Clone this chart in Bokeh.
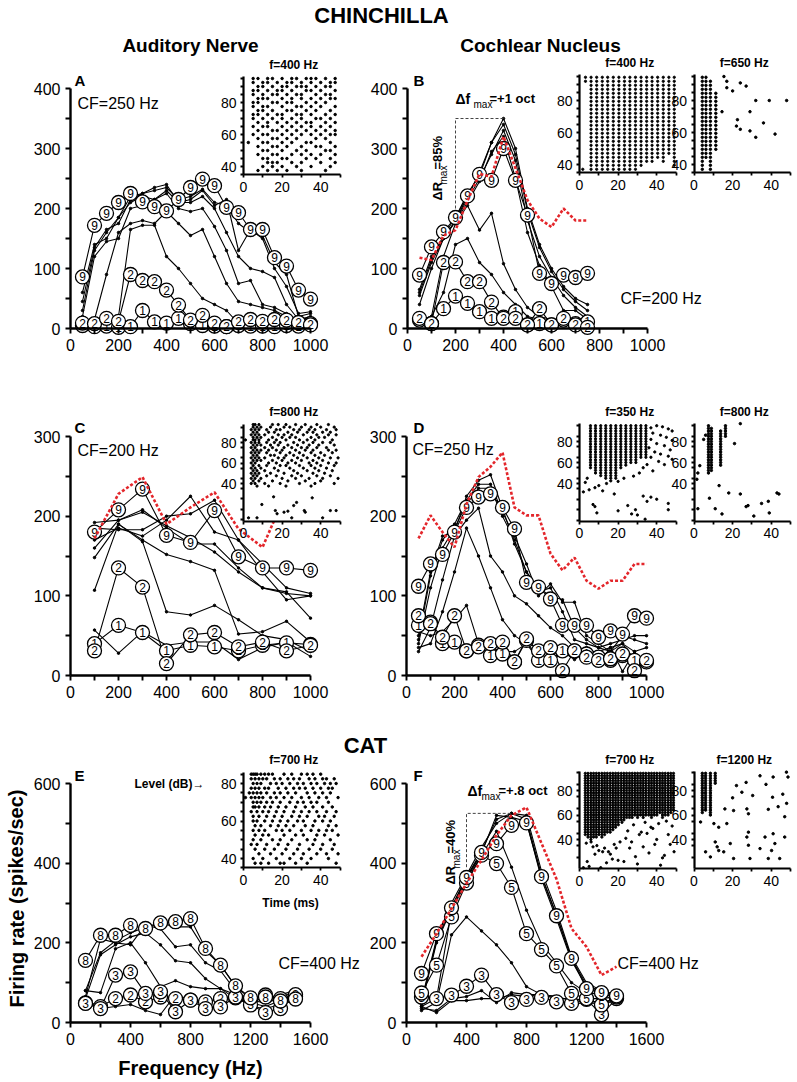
from bokeh.plotting import figure
from bokeh.models import Range1d, LinearAxis, FixedTicker
from bokeh.core.properties import value
from bokeh.embed import file_html
from bokeh.resources import INLINE

# ---------------- DATA ----------------
# Panel A (chinchilla AN, CF=250 Hz)
A_FREQ = [50, 100, 150, 200, 250, 300, 350, 400, 450, 500, 550, 600, 650, 700, 750, 800, 850, 900, 950, 1000]
A_L1 = [5, 3, 4, 2, 3, 30, 11, 9, 17, 8, 5, 4, 3, 5, 4, 4, 3, 5, 4, 8]
A_L2 = [9, 8, 17, 12, 90, 80, 78, 64, 39, 14, 22, 9, 3, 11, 15, 12, 15, 14, 10, 6]
A_L9 = [86, 172, 192, 210, 225, 211, 203, 196, 215, 235, 249, 238, 202, 193, 165, 165, 118, 104, 64, 49]
A_L3 = [10, 12, 15, 20, 165, 172, 172, 120, 100, 75, 50, 40, 30, 8, 10, 12, 14, 15, 15, 18]
A_L4 = [15, 15, 90, 160, 175, 180, 175, 195, 175, 155, 165, 120, 75, 45, 40, 35, 30, 20, 15, 15]
A_L5 = [20, 120, 145, 150, 200, 205, 215, 225, 200, 195, 200, 170, 130, 75, 80, 40, 35, 25, 10, 12]
A_L6 = [30, 130, 160, 185, 210, 220, 215, 230, 210, 210, 220, 200, 160, 120, 100, 95, 85, 40, 15, 20]
A_L7 = [45, 135, 165, 175, 215, 225, 235, 240, 210, 215, 230, 205, 215, 130, 165, 150, 100, 70, 25, 28]
A_L8 = [60, 140, 150, 185, 220, 225, 230, 235, 215, 220, 232, 210, 205, 175, 160, 155, 110, 90, 20, 25]

# Panel B (chinchilla CN, CF=200 Hz)
B_FREQ = [50, 100, 150, 200, 250, 300, 350, 400, 450, 500, 550, 600, 650, 700, 750]
B_L1 = [14, 8, 33, 54, 42, 28, 17, 19, 28, 6, 8, 6, 14, 8, 11]
B_L2 = [17, 8, 110, 111, 78, 78, 44, 17, 17, 6, 33, 6, 17, 6, 2]
B_L9 = [89, 136, 161, 185, 221, 257, 247, 300, 247, 189, 92, 75, 89, 85, 92]
B_L3 = [15, 20, 60, 140, 150, 110, 90, 60, 40, 20, 15, 12, 10, 8, 6]
B_L4 = [10, 20, 120, 175, 205, 164, 192, 108, 65, 35, 20, 15, 12, 8, 5]
B_L5 = [40, 100, 150, 178, 210, 245, 295, 320, 250, 160, 105, 70, 30, 30, 15]
B_L6 = [55, 110, 150, 180, 215, 250, 290, 330, 280, 180, 120, 85, 55, 35, 20]
B_L7 = [60, 115, 155, 185, 225, 255, 310, 340, 290, 195, 135, 95, 65, 45, 30]
B_L8 = [65, 120, 150, 180, 220, 260, 310, 350, 300, 200, 140, 100, 70, 50, 40]
B_RED = [118, 114, 155, 164, 213, 258, 253, 320, 267, 214, 183, 169, 200, 180, 180]
B_ANN_F = [200, 200, 400]
B_ANN_R = [200, 350, 350]

# Panel C (chinchilla AN, CF=200 Hz)
C_FREQ = [100, 200, 300, 400, 500, 600, 700, 800, 900, 1000]
C_L1 = [40, 63, 54, 31, 38, 36, 31, 38, 41, 39]
C_L2 = [31, 135, 111, 15, 51, 54, 36, 42, 31, 38]
C_L9 = [180, 208, 234, 176, 167, 207, 149, 135, 135, 132]
C_L3 = [57, 28, 55, 38, 42, 42, 20, 35, 42, 24]
C_L4 = [107, 190, 168, 80, 76, 88, 70, 50, 45, 30]
C_L5 = [148, 190, 170, 152, 143, 132, 52, 55, 68, 42]
C_L6 = [160, 195, 208, 185, 165, 165, 135, 110, 105, 72]
C_L7 = [170, 185, 175, 195, 225, 180, 170, 130, 95, 100]
C_L8 = [185, 183, 183, 200, 203, 220, 170, 140, 110, 103]
C_L8B = [192, 195, 205, 188, 173, 155, 130, 110, 103, 100]
C_RED_FREQ = [100, 200, 300, 400, 500, 600, 700, 800, 900]
C_RED = [172, 228, 249, 190, 211, 230, 184, 161, 230]

# Panel D (chinchilla CN, CF=250 Hz)
D_FREQ = [50, 100, 150, 200, 250, 300, 350, 400, 450, 500, 550, 600, 650, 700, 750, 800, 850, 900, 950, 1000]
D_L1 = [63, 67, 40, 42, 31, 38, 25, 27, 17, 44, 19, 19, 31, 31, 27, 23, 19, 25, 19, 17]
D_L2 = [75, 65, 48, 75, 31, 36, 40, 42, 17, 46, 31, 35, 6, 31, 23, 19, 21, 27, 6, 19]
D_L9 = [112, 140, 152, 180, 211, 224, 228, 211, 184, 117, 111, 96, 63, 63, 63, 48, 56, 52, 75, 72]
D_L3 = [55, 50, 55, 70, 88, 40, 35, 30, 30, 40, 20, 15, 30, 20, 30, 15, 35, 5, 30, 10]
D_L4 = [35, 40, 80, 130, 185, 150, 110, 70, 50, 40, 35, 30, 25, 30, 35, 25, 20, 30, 25, 20]
D_L5 = [30, 60, 120, 175, 195, 210, 150, 130, 100, 90, 75, 60, 50, 35, 30, 30, 35, 40, 20, 25]
D_L6 = [40, 110, 160, 185, 215, 235, 235, 200, 170, 130, 110, 100, 95, 60, 45, 35, 30, 40, 30, 35]
D_L7 = [45, 125, 170, 190, 220, 240, 240, 205, 175, 140, 100, 115, 92, 92, 50, 40, 30, 50, 45, 40]
D_L8 = [50, 130, 175, 180, 225, 245, 252, 210, 165, 130, 105, 110, 80, 45, 40, 35, 40, 45, 50, 50]
D_RED = [172, 201, 180, 161, 215, 249, 262, 280, 211, 201, 201, 153, 132, 148, 119, 109, 119, 119, 140, 140]

# Panel E (cat AN, CF=400 Hz)
E_FREQ = [100, 200, 300, 400, 500, 600, 700, 800, 900, 1000, 1100, 1200, 1300, 1400, 1500]
E_L2 = [49, 40, 60, 69, 52, 64, 60, 56, 52, 60, 62, 58, 69, 60, 65]
E_L3 = [48, 35, 119, 127, 73, 77, 27, 56, 35, 39, 64, 44, 25, 35, 70]
E_L8 = [156, 219, 219, 244, 236, 250, 253, 261, 186, 144, 92, 62, 64, 54, 59]
E_L4 = [60, 35, 40, 45, 30, 20, 70, 55, 50, 60, 65, 40, 35, 45, 55]
E_L5 = [80, 75, 185, 200, 150, 90, 105, 90, 85, 85, 60, 50, 40, 55, 65]
E_L6 = [60, 170, 195, 215, 225, 195, 155, 150, 110, 85, 70, 55, 50, 60, 70]
E_L7 = [65, 210, 200, 195, 245, 235, 190, 195, 150, 130, 80, 55, 60, 70, 80]
E_L7B = [80, 175, 205, 225, 240, 250, 240, 240, 180, 145, 90, 60, 55, 65, 75]

# Panel F (cat CN, CF=400 Hz)
F_FREQ = [100, 200, 300, 400, 500, 600, 700, 800, 900, 1000, 1100, 1200, 1300, 1400]
F_L3 = [64, 60, 69, 91, 119, 70, 50, 58, 63, 52, 48, 58, 20, 60]
F_L5 = [74, 144, 265, 350, 420, 399, 339, 223, 183, 142, 73, 60, 44, 64]
F_L9 = [123, 223, 288, 364, 427, 449, 495, 501, 366, 268, 161, 85, 75, 67]
F_L1 = [40, 25, 55, 55, 60, 60, 70, 65, 70, 60, 60, 55, 40, 60]
F_L2 = [35, 30, 60, 65, 80, 50, 75, 70, 70, 65, 40, 55, 50, 60]
F_L4 = [30, 50, 220, 265, 230, 195, 150, 90, 70, 65, 55, 60, 60, 65]
F_L6 = [40, 60, 280, 355, 420, 480, 390, 282, 198, 150, 100, 75, 70, 65]
F_L7 = [45, 200, 285, 360, 425, 520, 515, 505, 360, 260, 155, 90, 80, 65]
F_L8 = [50, 205, 290, 365, 430, 510, 525, 510, 370, 270, 160, 95, 75, 70]
F_L8B = [55, 210, 300, 370, 440, 500, 525, 520, 380, 280, 165, 100, 80, 70]
F_RED = [165, 223, 286, 349, 408, 470, 520, 540, 450, 360, 236, 190, 119, 140]
F_ANN_F = [400, 400, 700]
F_ANN_R = [390, 525, 525]

# Rasters: spike times (ms) per level row (dB)
A_RAS_LEV = [95, 92.5, 90, 87.5, 85, 82.5, 80, 77.5, 75, 72.5, 70, 67.5, 65, 62.5, 60, 57.5, 55, 52.5, 50, 47.5, 45, 42.5, 40, 37.5]
A_RAS_T = [
    [5, 7.5, 12.5, 15, 20, 25, 27.5, 32.5, 35, 37.5, 42.5, 47.5],
    [5, 10, 12.5, 17.5, 22.5, 25, 30, 35, 40, 45, 47.5],
    [7.5, 10, 15, 20, 22.5, 27.5, 30, 32.5, 37.5, 42.5, 45],
    [5, 7.5, 12.5, 17.5, 20, 25, 32.5, 35, 40, 47.5],
    [5, 10, 15, 17.5, 22.5, 27.5, 30, 37.5, 42.5, 45],
    [7.5, 10, 12.5, 20, 25, 30, 35, 40, 45, 47.5],
    [5, 7.5, 15, 17.5, 22.5, 25, 32.5, 37.5, 42.5],
    [5, 10, 12.5, 20, 27.5, 30, 35, 40, 47.5],
    [7.5, 10, 15, 22.5, 25, 32.5, 37.5, 45],
    [5, 7.5, 12.5, 17.5, 20, 27.5, 30, 35, 42.5, 47.5],
    [5, 10, 15, 20, 25, 30, 37.5, 40, 45],
    [7.5, 12.5, 17.5, 22.5, 27.5, 32.5, 35, 42.5, 47.5],
    [5, 10, 12.5, 20, 25, 30, 35, 40, 45],
    [7.5, 15, 17.5, 22.5, 27.5, 32.5, 37.5, 42.5, 47.5],
    [5, 10, 12.5, 20, 25, 30, 35, 40, 45, 47.5],
    [7.5, 15, 17.5, 22.5, 27.5, 37.5, 42.5],
    [2.5, 10, 12.5, 20, 25, 32.5, 35, 45],
    [7.5, 15, 17.5, 22.5, 30, 37.5, 40, 47.5],
    [10, 12.5, 20, 27.5, 32.5, 42.5, 45],
    [7.5, 15, 17.5, 25, 30, 35, 40, 47.5],
    [10, 12.5, 20, 22.5, 32.5, 37.5, 45],
    [12.5, 15, 17.5, 25, 30, 40, 47.5],
    [10, 15, 20, 27.5, 35, 45],
    [7.5, 12.5, 17.5, 22.5, 30, 42.5],
]
B1_ROWS = [37, 39.5, 42, 44.5, 47, 49.5, 52, 54.5, 57, 59.5, 62, 64.5, 67, 69.5, 72, 74.5, 77, 79.5, 82, 84.5, 87, 89.5, 92, 94.5]
B1_COL_T = [3.1, 6.0, 8.9, 11.8, 14.6, 17.5, 20.4, 23.3, 26.1, 29.0, 31.9, 34.8, 37.6, 40.5, 43.4, 46.3, 49.1]
B1_COL_LO = [92, 37, 37, 37, 37, 37, 37, 37, 37, 37, 39.5, 42, 42, 44.5, 42, 47, 39.5]
B1_EXTRA_T = [1.7]
B1_EXTRA_L = [37]
B2_COL_T = [4.3, 6.2, 8.5, 11.3]
B2_COL_LO = [37, 44.5, 37, 49.5]
B2_COL_HI = [94.5, 94.5, 92, 84.5]
B2_SCAT_T = [15.5, 17, 17, 20, 24, 27, 32, 39, 48, 14.5, 22.5, 22, 24, 29, 36, 29, 32, 42]
B2_SCAT_L = [95, 92, 88, 86, 91, 89, 80, 80, 80, 73, 68, 64, 62, 73, 66, 61, 57, 59]

C_RAS_LEV = [97.5, 95, 92.5, 90, 87.5, 85, 82.5, 80, 77.5, 75, 72.5, 70, 67.5, 65, 62.5, 60, 57.5, 55, 52.5, 50, 47.5, 45, 42.5, 40, 37.5]
C_RAS_T = [
    [5, 6, 8, 15, 18, 22, 27, 32, 38, 44],
    [5, 7, 9, 14, 21, 24, 30, 35, 40, 47],
    [4, 6, 8, 12, 17, 19, 26, 29, 34, 37, 43, 48],
    [5, 7, 13, 16, 23, 28, 33, 36, 41, 45],
    [4, 6, 8, 11, 18, 21, 25, 31, 38, 44, 48],
    [5, 7, 9, 15, 20, 24, 27, 35, 39, 42],
    [1, 5, 6, 8, 13, 17, 22, 29, 33, 37, 46],
    [4, 6, 8, 12, 16, 19, 26, 31, 36, 41, 45],
    [5, 7, 9, 14, 18, 23, 28, 34, 39, 47],
    [4, 6, 11, 15, 21, 25, 30, 33, 38, 43],
    [5, 7, 9, 13, 17, 20, 27, 32, 36, 44, 48],
    [4, 6, 8, 12, 19, 24, 29, 35, 40, 46],
    [5, 7, 14, 16, 22, 26, 31, 37, 42],
    [4, 6, 8, 11, 18, 21, 28, 33, 39, 45, 49],
    [5, 7, 9, 15, 20, 25, 30, 36, 41],
    [4, 6, 13, 17, 23, 27, 34, 38, 44, 48],
    [5, 8, 12, 19, 22, 29, 35, 40, 47],
    [4, 6, 9, 16, 24, 31, 37, 43],
    [5, 7, 11, 18, 26, 33, 39, 46],
    [4, 6, 8, 14, 21, 28, 36, 42],
    [5, 7, 12, 17, 25, 30, 38, 45],
    [4, 6, 9, 20, 27, 34, 41, 49],
    [5, 8, 15, 23, 32, 40],
    [4, 6, 11, 19, 29, 37, 47],
    [7, 13, 22, 35],
]
C_LOW_T = [2.6, 7, 9.5, 15.6, 16.5, 17.4, 21, 23, 25, 26, 27.5, 31.5, 35.6, 32, 41, 45, 48]
C_LOW_L = [6.5, 6.5, 19.5, 27, 13.6, 10.5, 12, 13, 6.5, 18.5, 21.5, 13.6, 26, 12, 6.5, 13.6, 13.6]

D1_ROWS = [42.5, 45, 47.5, 50, 52.5, 55, 57.5, 60, 62.5, 65, 67.5, 70, 72.5, 75, 77.5, 80, 82.5, 85, 87.5, 90, 92.5, 95]
D1_COL_T = [5.7, 8.3, 11.0, 13.6, 16.2, 18.8, 21.4, 24.0, 26.6, 29.2, 31.8, 34.4]
D1_COL_LO = [53, 48, 46, 45, 42, 45, 53, 56, 60, 60, 63, 63]
D1_SCAT_T = [37, 40, 43, 46, 48, 38, 42, 45, 48, 37, 40, 44, 47, 36, 39, 42, 46, 48, 37, 41, 44, 35, 33, 38, 31, 28, 23, 20, 14, 10,
             8, 4, 3, 5, 2, 7, 8, 9, 20, 25, 27, 29, 30, 34, 35, 37, 40, 46, 46, 33, 18, 12]
D1_SCAT_L = [93, 95, 94, 92, 90, 88, 86, 84, 81, 82, 78, 76, 72, 74, 70, 68, 66, 63, 65, 61, 58, 58, 55, 52, 50, 47, 45, 42, 40, 38,
             36, 45, 41, 34, 32, 20, 18, 12, 14, 19, 11, 15, 10, 6, 23, 27, 25, 15, 21, 28, 30, 33]
D2_COL_T = [7.5, 9.0, 13.8, 16.3]
D2_COL_LO = [48, 52.5, 57.5, 85]
D2_COL_HI = [95, 92.5, 90, 95]
D2_SCAT_T = [24, 21, 3, 2, 1.5, 13, 18, 24, 27, 28, 35, 38.5, 43, 44, 39, 8, 11, 14.5, 31, 2, 5, 6]
D2_SCAT_L = [97, 78, 57, 50, 44, 38, 31, 30, 18, 19, 21, 23, 31, 30, 12, 26, 16, 11, 9, 16, 82, 86]

E_RAS_LEV = [85, 82.5, 80, 77.5, 75, 72.5, 70, 67.5, 65, 62.5, 60, 57.5, 55, 52.5, 50, 47.5, 45, 42.5, 40, 37.5]
E_RAS_T = [
    [4, 5, 6, 7, 9, 11, 13, 15, 21, 25, 30, 33, 36, 40],
    [4, 6, 8, 10, 12, 16, 19, 23, 26, 29, 34, 37, 41, 43, 47],
    [5, 7, 9, 14, 17, 20, 24, 28, 31, 35, 38, 42, 45, 48],
    [4, 6, 8, 11, 13, 18, 22, 26, 29, 32, 36, 40, 44, 46],
    [3, 5, 7, 9, 12, 16, 19, 23, 27, 33, 37, 41, 45],
    [1, 4, 6, 8, 10, 14, 17, 21, 25, 30, 34, 39, 43, 49],
    [5, 7, 9, 12, 15, 19, 24, 28, 31, 35, 38, 44],
    [5, 6, 8, 11, 14, 18, 22, 27, 32, 36, 41, 46],
    [4, 7, 10, 13, 17, 21, 26, 30, 34, 38, 43, 48],
    [5, 8, 12, 16, 20, 25, 29, 33, 39, 42, 47],
    [5, 7, 11, 15, 19, 23, 28, 31, 37, 41, 45],
    [6, 9, 14, 18, 22, 26, 32, 36, 44, 48],
    [5, 8, 11, 17, 20, 24, 30, 35, 39, 43, 46],
    [6, 10, 13, 21, 27, 31, 38, 42, 49],
    [5, 9, 15, 19, 25, 33, 37, 45],
    [4, 7, 12, 18, 23, 29, 36, 41, 47],
    [6, 11, 16, 22, 28, 34, 40, 46],
    [8, 14, 20, 26, 31, 38, 43, 49],
    [5, 10, 17, 24, 30, 35, 44],
    [6, 9, 13, 19, 21, 27, 33, 48],
]
F1_ROWS = [40, 42, 44, 46, 48, 50, 52, 54, 56, 58, 60, 62, 64, 66, 68, 70, 72, 74, 76, 78, 80, 82, 84, 86, 88, 90, 92, 94]
F1_COL_T = [3.0, 4.4, 5.9, 7.3, 8.7, 10.1, 11.6, 13.0, 14.4, 15.9, 17.3, 18.7, 20.1, 21.6, 23.0, 24.4, 25.9,
            27.3, 28.7, 30.1, 31.6, 33.0, 34.4, 35.9, 37.3, 38.7, 40.1, 41.6, 43.0, 44.4, 45.9, 47.3, 48.7]
F1_COL_LO = [44, 42, 40, 41, 42, 43, 42, 44, 45, 46, 47, 50, 52, 55, 56, 58, 57, 58, 59, 58, 60, 58, 59, 60,
             58, 59, 60, 61, 58, 60, 59, 62, 64]
F1_SCAT_T = [3.5, 6, 9, 12, 15, 18, 22, 25, 28, 31, 34, 38, 41, 45, 48, 4, 8, 13, 17, 21, 26, 30, 35, 40, 44, 47,
             5, 10, 16, 20, 24, 29, 33, 37, 42, 46, 7, 14, 19, 27, 36, 43, 2, 11, 23, 32, 39, 49]
F1_SCAT_L = [37, 38, 35, 30, 30, 36, 54, 47, 52, 44, 54, 49, 53, 55, 51, 22, 28, 33, 24, 38, 33, 20, 45, 40, 27, 36,
             18, 31, 28, 23, 41, 26, 34, 50, 19, 44, 34, 21, 33, 38, 29, 25, 17, 17, 22, 46, 36, 30]
F2_ROWS = [60, 62, 64, 66, 68, 70, 72, 74, 76, 78, 80, 82, 84, 86, 88, 90, 92, 94]
F2_COL_T = [4.3, 6.0, 8.5, 11.0]
F2_COL_LO = [62, 64, 60, 86]
F2_SCAT_T = [34.2, 41, 47.9, 48.7, 22, 27, 37.3, 24.8, 30.4, 40.7, 46, 20, 16, 20.5, 27.4, 28.2, 38.5, 43.6, 48, 47,
             10.3, 12.8, 17, 28.2, 27.4, 36.8, 41, 47, 11, 12.8, 12, 18.8, 28.2, 34.2, 40.2, 41.9, 6, 8.5, 15.4, 20.5,
             29, 38.5, 44.4, 3.4]
F2_SCAT_L = [92, 91, 95, 91, 84, 86.6, 85, 78.6, 75.9, 74.5, 77, 74, 65, 63.6, 65, 61, 64.6, 66.8, 69.5, 58.6,
             53, 50, 53, 46, 42, 42, 44.7, 42, 38, 31, 34, 36.7, 35.3, 32.6, 31, 36.7, 29.9, 25.8, 29.9, 24.5,
             24.5, 24.5, 24.5, 54.3]

# ---------------- FIGURE ----------------
W, H = 797, 1080
OFF = 0
FONT = "Liberation Sans"
RED = "#e3262b"

p = figure(width=W, height=H, x_range=Range1d(OFF, OFF + W), y_range=Range1d(OFF + H, OFF),
           min_border=0, toolbar_location=None, output_backend="svg",
           x_axis_type=None, y_axis_type=None)
p.outline_line_color = None
p.background_fill_color = "white"
p.border_fill_color = "white"

XR, YR = {}, {}


def add_ranges(name, px0, px1, d0, d1, py0, py1, e0, e1):
    sx = (d1 - d0) / (px1 - px0)
    XR[name] = Range1d(d0 - (px0 - OFF) * sx, d0 + (OFF + W - px0) * sx)
    sy = (e1 - e0) / (py0 - py1)
    YR[name] = Range1d(e0 - (OFF + H - py0) * sy, e0 + (py0 - OFF) * sy)


def style(ax, fs, lw, tick, standoff):
    ax.axis_line_width = lw
    ax.axis_line_color = "black"
    ax.major_tick_line_width = max(1.5, lw * 0.8)
    ax.minor_tick_line_width = max(1.5, lw * 0.8)
    ax.major_tick_out = tick
    ax.major_tick_in = 0
    ax.minor_tick_out = tick
    ax.minor_tick_in = 0
    ax.major_label_text_font = FONT
    ax.major_label_text_font_size = f"{fs}px"
    ax.major_label_text_color = "black"
    ax.major_label_standoff = standoff


def axes(name, xb, xmaj, xmin, yb, ymaj, ymin, fs, lw, tick, standoff):
    xa = LinearAxis(x_range_name=name, y_range_name=name, fixed_location=yb[0], bounds=xb,
                    ticker=FixedTicker(ticks=xmaj, minor_ticks=xmin))
    style(xa, fs, lw, tick, standoff)
    p.add_layout(xa, "below")
    ya = LinearAxis(x_range_name=name, y_range_name=name, fixed_location=xb[0], bounds=yb,
                    ticker=FixedTicker(ticks=ymaj, minor_ticks=ymin))
    style(ya, fs, lw, tick, standoff)
    p.add_layout(ya, "left")


def txt(x, y, s, size, bold=False, align="left", baseline="middle", angle=0.0, color="black"):
    p.text(x=[x], y=[y], text=[s], text_font=value(FONT), text_font_size=f"{size}px",
           text_font_style="bold" if bold else "normal", text_align=align,
           text_baseline=baseline, angle=angle, text_color=color)


def draw_panel(name, freq, plain, circled, red=None, red_freq=None):
    kw = dict(x_range_name=name, y_range_name=name)
    for ys in plain:
        p.line(freq, ys, line_color="black", line_width=1.1, **kw)
        p.scatter(freq, ys, size=2.5, color="black", **kw)
    for lab, ys in circled:
        p.line(freq, ys, line_color="black", line_width=1.1, **kw)
    for lab, ys in circled:
        p.scatter(freq, ys, size=14, marker="circle", fill_color="white", line_color="black",
                  line_width=1.3, **kw)
        p.text(freq, ys, text=[lab] * len(freq), text_font=value(FONT), text_font_size="12px",
               text_align="center", text_baseline="middle", text_color="black", **kw)
    if red is not None:
        p.line(red_freq, red, line_color=RED, line_width=2.6, line_dash="3 2", **kw)


def inset(name, x0, y40, ppd, ylo, yhi, xs, ys, title, minor_step, dot=2.5):
    pms = 1.93
    add_ranges(name, x0, x0 + 50 * pms, 0, 50, y40 + (40 - ylo) * ppd, y40 - (yhi - 40) * ppd, ylo, yhi)
    kw = dict(x_range_name=name, y_range_name=name)
    p.quad(left=[-1.5], right=[51], bottom=[ylo], top=[yhi + 1], fill_color="white", line_color=None, **kw)
    p.scatter(xs, ys, size=dot, color="black", **kw)
    yminor = [v for v in range(5, 100, minor_step) if ylo <= v <= yhi and v not in (40, 60, 80)]
    axes(name, (0, 50), [0, 20, 40], [10, 30, 50], (ylo, yhi), [40, 60, 80], yminor, 14, 2.2, 3, 4)
    txt(x0 + 25 * pms + 2, y40 - (yhi - 40) * ppd - 12, title, 12, bold=True, align="center")


def rows_to_xy(levels, times):
    xs, ys = [], []
    for lev, ts in zip(levels, times):
        xs += list(ts)
        ys += [lev] * len(ts)
    return xs, ys


def cols_to_xy(rows, col_t, col_lo, col_hi=None):
    xs, ys = [], []
    for i, t in enumerate(col_t):
        hi = col_hi[i] if col_hi is not None else 1e9
        for r in rows:
            if col_lo[i] <= r <= hi:
                xs.append(t)
                ys.append(r)
    return xs, ys


# ---- main panels ----
add_ranges("A", 70, 310, 0, 1000, 328, 88, 0, 400)
add_ranges("B", 407, 647, 0, 1000, 328, 88, 0, 400)
add_ranges("C", 70, 310, 0, 1000, 675, 436, 0, 300)
add_ranges("D", 406, 646, 0, 1000, 675, 436, 0, 300)
add_ranges("E", 70, 310, 0, 1600, 1022, 783, 0, 600)
add_ranges("F", 406, 646, 0, 1600, 1022, 783, 0, 600)

draw_panel("A", A_FREQ, [A_L3, A_L4, A_L5, A_L6, A_L7, A_L8],
           [("1", A_L1), ("2", A_L2), ("9", A_L9)])
draw_panel("B", B_FREQ, [B_L3, B_L4, B_L5, B_L6, B_L7, B_L8],
           [("1", B_L1), ("2", B_L2), ("9", B_L9)], B_RED, B_FREQ)
p.line(B_ANN_F, B_ANN_R, line_color="#444444", line_width=1, line_dash="3 2", x_range_name="B", y_range_name="B")
draw_panel("C", C_FREQ, [C_L3, C_L4, C_L5, C_L6, C_L7, C_L8, C_L8B],
           [("1", C_L1), ("2", C_L2), ("9", C_L9)], C_RED, C_RED_FREQ)
draw_panel("D", D_FREQ, [D_L3, D_L4, D_L5, D_L6, D_L7, D_L8],
           [("1", D_L1), ("2", D_L2), ("9", D_L9)], D_RED, D_FREQ)
draw_panel("E", E_FREQ, [E_L4, E_L5, E_L6, E_L7, E_L7B],
           [("2", E_L2), ("3", E_L3), ("8", E_L8)])
draw_panel("F", F_FREQ, [F_L1, F_L2, F_L4, F_L6, F_L7, F_L8, F_L8B],
           [("3", F_L3), ("5", F_L5), ("9", F_L9)], F_RED, F_FREQ)
p.line(F_ANN_F, F_ANN_R, line_color="#444444", line_width=1, line_dash="3 2", x_range_name="F", y_range_name="F")

for nm, xmax, xmaj, xmin, ymax, ymaj, ymin in [
    ("A", 1000, [0, 200, 400, 600, 800, 1000], [100, 300, 500, 700, 900], 400, [0, 100, 200, 300, 400], [50, 150, 250, 350]),
    ("B", 1000, [0, 200, 400, 600, 800, 1000], [100, 300, 500, 700, 900], 400, [0, 100, 200, 300, 400], [50, 150, 250, 350]),
    ("C", 1000, [0, 200, 400, 600, 800, 1000], [100, 300, 500, 700, 900], 300, [0, 100, 200, 300], [50, 150, 250]),
    ("D", 1000, [0, 200, 400, 600, 800, 1000], [100, 300, 500, 700, 900], 300, [0, 100, 200, 300], [50, 150, 250]),
    ("E", 1600, [0, 400, 800, 1200, 1600], [200, 600, 1000, 1400], 600, [0, 200, 400, 600], [100, 300, 500]),
    ("F", 1600, [0, 400, 800, 1200, 1600], [200, 600, 1000, 1400], 600, [0, 200, 400, 600], [100, 300, 500]),
]:
    axes(nm, (0, xmax), xmaj, xmin, (0, ymax), ymaj, ymin, 16, 2.4, 5, 5)

# ---- insets ----
ax_, ay_ = rows_to_xy(A_RAS_LEV, A_RAS_T)
inset("IA", 243, 166, 1.6, 35, 96, ax_, ay_, "f=400 Hz", 5)

bx, by = cols_to_xy(B1_ROWS, B1_COL_T, B1_COL_LO)
inset("IB1", 579, 164, 1.6, 35, 96, bx + B1_EXTRA_T, by + B1_EXTRA_L, "f=400 Hz", 5, dot=2.3)
bx, by = cols_to_xy(B1_ROWS, B2_COL_T, B2_COL_LO, B2_COL_HI)
inset("IB2", 693.5, 164, 1.6, 35, 96, bx + B2_SCAT_T, by + B2_SCAT_L, "f=650 Hz", 5)

cx, cy = rows_to_xy(C_RAS_LEV, C_RAS_T)
inset("IC", 243, 483, 1.025, 3, 98, cx + C_LOW_T, cy + C_LOW_L, "f=800 Hz", 10, dot=2.3)

dx, dy = cols_to_xy(D1_ROWS, D1_COL_T, D1_COL_LO)
inset("ID1", 579, 483, 1.05, 4, 97, dx + D1_SCAT_T, dy + D1_SCAT_L, "f=350 Hz", 10, dot=2.3)
dx, dy = cols_to_xy(D1_ROWS, D2_COL_T, D2_COL_LO, D2_COL_HI)
inset("ID2", 693.5, 483, 1.05, 4, 97, dx + D2_SCAT_T, dy + D2_SCAT_L, "f=800 Hz", 10)

ex, ey = rows_to_xy(E_RAS_LEV, E_RAS_T)
inset("IE", 243, 858, 1.875, 35, 86, ex, ey, "f=700 Hz", 5)

fx, fy = cols_to_xy(F1_ROWS, F1_COL_T, F1_COL_LO)
inset("IF1", 579, 839, 1.225, 16, 95.5, fx + F1_SCAT_T, fy + F1_SCAT_L, "f=700 Hz", 10, dot=2.3)
fx, fy = cols_to_xy(F2_ROWS, F2_COL_T, F2_COL_LO)
inset("IF2", 693.5, 839, 1.225, 16, 95.5, fx + F2_SCAT_T, fy + F2_SCAT_L, "f=1200 Hz", 10)

p.extra_x_ranges = XR
p.extra_y_ranges = YR

# ---- texts ----
txt(381, 15, "CHINCHILLA", 22, bold=True, align="center")
txt(190, 45, "Auditory Nerve", 19, bold=True, align="center")
txt(540, 45, "Cochlear Nucleus", 19, bold=True, align="center")
txt(365, 745, "CAT", 22, bold=True, align="center")
txt(16, 898, "Firing rate (spikes/sec)", 20, bold=True, align="center", angle=1.5708)
txt(190, 1067, "Frequency (Hz)", 20, bold=True, align="center")
for lab, x, y in [("A", 74, 80), ("B", 413, 80), ("C", 74, 427), ("D", 413, 427), ("E", 74, 775), ("F", 413, 775)]:
    txt(x, y, lab, 15, bold=True)
txt(77, 103, "CF=250 Hz", 16)
txt(620, 298, "CF=200 Hz", 16)
txt(77, 450, "CF=200 Hz", 16)
txt(412, 449, "CF=250 Hz", 16)
txt(278, 963, "CF=400 Hz", 16)
txt(617, 963, "CF=400 Hz", 16)
txt(204, 783, "Level (dB)\u2192", 12, bold=True, align="right")
txt(290, 902, "Time (ms)", 12, bold=True, align="center")
# delta annotations B
txt(455, 98, "\u0394f", 14, bold=True)
txt(473, 104, "max", 10)
txt(489, 98, "=+1 oct", 13, bold=True)
txt(437, 200, "\u0394R", 13, bold=True, angle=1.5708)
txt(443, 184, "max", 10, angle=1.5708)
txt(437, 169, "=85%", 13, bold=True, angle=1.5708)
# delta annotations F
txt(467, 790, "\u0394f", 14, bold=True)
txt(481, 796, "max", 10)
txt(498, 790, "=+.8 oct", 13, bold=True)
txt(450, 884, "\u0394R", 13, bold=True, angle=1.5708)
txt(456, 868, "max", 10, angle=1.5708)
txt(450, 853, "=40%", 13, bold=True, angle=1.5708)

open("out.html", "w").write(file_html(p, INLINE))
